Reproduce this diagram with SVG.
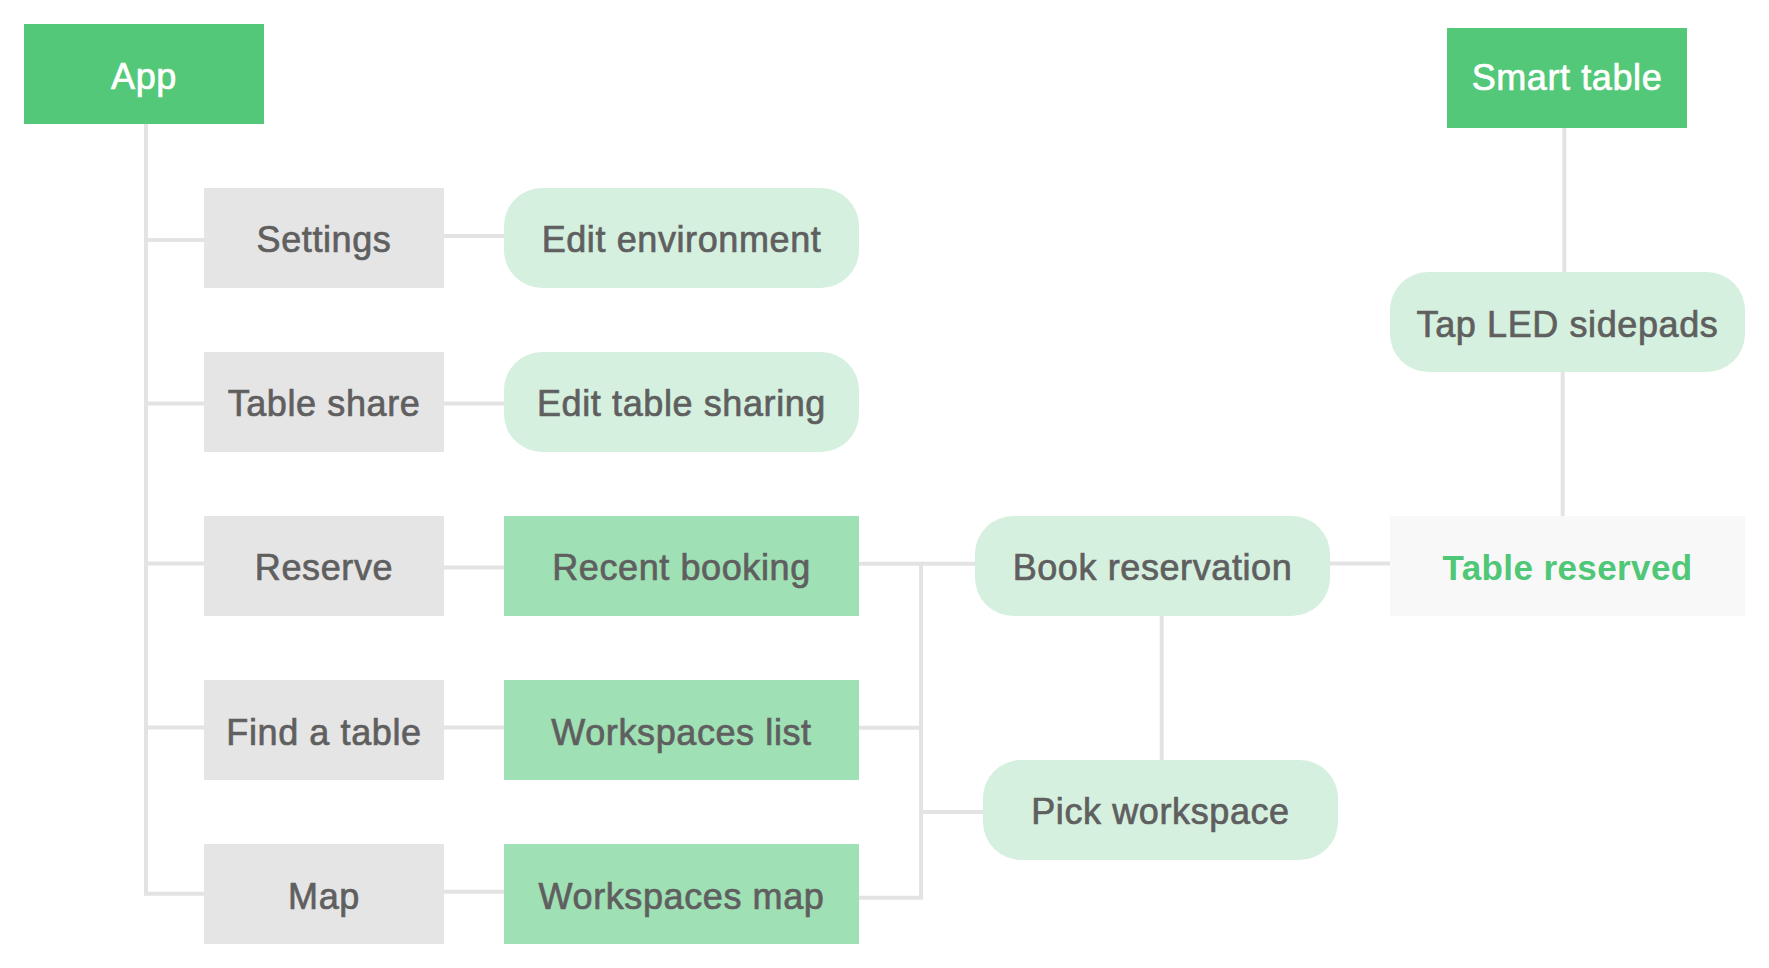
<svg xmlns="http://www.w3.org/2000/svg" width="1769" height="968" viewBox="0 0 1769 968">
<style>
.t{font-family:"Liberation Sans",Arial,Helvetica,sans-serif;font-size:36px;fill:#5f5f5f;stroke:#5f5f5f;stroke-width:0.7px;letter-spacing:0.6px;text-anchor:middle}
.w{fill:#ffffff;stroke:#ffffff}
.g{font-weight:bold;font-size:35px;fill:#4fc777;stroke:none;letter-spacing:0.4px}
.root{fill:#52c878}
.gray{fill:#e5e5e5}
.pill{fill:#d5f0df}
.mid{fill:#9fe0b5}
.done{fill:#f8f8f8}
.c path{fill:none;stroke:#e3e3e3;stroke-width:4;stroke-linejoin:miter;stroke-linecap:butt}
</style>
<rect width="1769" height="968" fill="#ffffff"/>
<g class="c" id="connectors">
<path d="M146,124 V893.7 H204"/>
<path d="M146,240 H204"/>
<path d="M146,403.5 H204"/>
<path d="M146,563.5 H204"/>
<path d="M146,727.5 H204"/>
<path d="M444,236 H504"/>
<path d="M444,403.5 H504"/>
<path d="M444,567.5 H504"/>
<path d="M444,727.5 H504"/>
<path d="M444,891.7 H504"/>
<path d="M859,563.7 H975"/>
<path d="M921,561.7 V897.7 H859"/>
<path d="M859,727.7 H921"/>
<path d="M921,812 H983"/>
<path d="M1330,563.5 H1390"/>
<path d="M1161.7,616 V760"/>
<path d="M1564.3,128 V272"/>
<path d="M1562.7,372 V516"/>
</g>
<g id="app"><rect class="root" x="24" y="24" width="240" height="100"/><text class="t w" x="144" y="89">App</text></g>
<g id="settings"><rect class="gray" x="204" y="188" width="240" height="100"/><text class="t" x="324" y="252">Settings</text></g>
<g id="table-share"><rect class="gray" x="204" y="352" width="240" height="100"/><text class="t" x="324" y="416">Table share</text></g>
<g id="reserve"><rect class="gray" x="204" y="516" width="240" height="100"/><text class="t" x="324" y="580">Reserve</text></g>
<g id="find-table"><rect class="gray" x="204" y="680" width="240" height="100"/><text class="t" x="324" y="745">Find a table</text></g>
<g id="map"><rect class="gray" x="204" y="844" width="240" height="100"/><text class="t" x="324" y="909">Map</text></g>
<g id="edit-environment"><rect class="pill" x="504" y="188" width="355" height="100" rx="38"/><text class="t" x="681.5" y="252">Edit environment</text></g>
<g id="edit-table-sharing"><rect class="pill" x="504" y="352" width="355" height="100" rx="38"/><text class="t" x="681.5" y="416">Edit table sharing</text></g>
<g id="recent-booking"><rect class="mid" x="504" y="516" width="355" height="100"/><text class="t" x="681.5" y="580">Recent booking</text></g>
<g id="workspaces-list"><rect class="mid" x="504" y="680" width="355" height="100"/><text class="t" x="681.5" y="745">Workspaces list</text></g>
<g id="workspaces-map"><rect class="mid" x="504" y="844" width="355" height="100"/><text class="t" x="681.5" y="909">Workspaces map</text></g>
<g id="book-reservation"><rect class="pill" x="975" y="516" width="355" height="100" rx="38"/><text class="t" x="1152.5" y="580">Book reservation</text></g>
<g id="pick-workspace"><rect class="pill" x="983" y="760" width="355" height="100" rx="38"/><text class="t" x="1160.5" y="824">Pick workspace</text></g>
<g id="smart-table"><rect class="root" x="1447" y="28" width="240" height="100"/><text class="t w" x="1567" y="90">Smart table</text></g>
<g id="tap-led"><rect class="pill" x="1390" y="272" width="355" height="100" rx="38"/><text class="t" x="1567.5" y="337">Tap LED sidepads</text></g>
<g id="table-reserved"><rect class="done" x="1390" y="516" width="355" height="100"/><text class="t g" x="1567.5" y="580">Table reserved</text></g>
</svg>
